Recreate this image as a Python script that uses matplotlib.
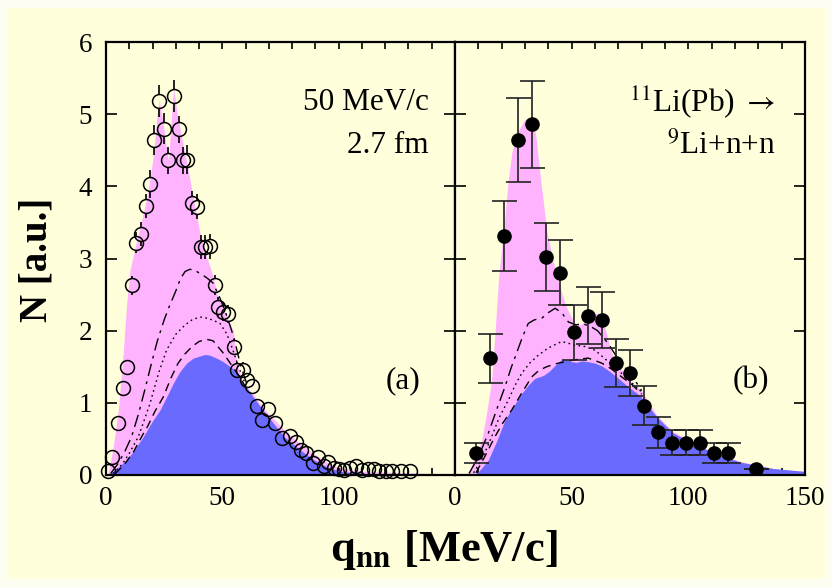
import matplotlib
matplotlib.use("Agg")
import matplotlib.pyplot as plt
from matplotlib.patches import Rectangle
import numpy as np

plt.rcParams['font.family'] = ['Liberation Serif', 'DejaVu Serif']
plt.rcParams['mathtext.fontset'] = 'stix'

# ---------------- panel (a): 50 MeV/c, 2.7 fm ----------------
qa = [1.0, 2.4, 5.3, 7.2, 9.2, 11.0, 12.9, 14.9, 17.2, 18.9, 20.6, 22.9, 24.9, 26.8,
      29.2, 31.2, 33.0, 34.9, 36.8, 39.0, 40.7, 42.5, 44.7, 46.8, 48.3, 50.4, 52.6,
      55.0, 56.2, 58.7, 60.5, 62.8, 64.7, 66.9, 69.5, 72.8, 75.8, 79.1, 81.7, 83.8,
      86.0, 89.1, 91.3, 93.5, 95.6, 98.0, 100.0, 102.5, 105.0, 107.5, 110.0, 112.5,
      115.0, 117.5, 120.5, 123.0, 127.0, 130.5]
Na = [0.05, 0.25, 0.72, 1.20, 1.50, 2.63, 3.22, 3.34, 3.73, 4.03, 4.64, 5.18, 4.80, 4.36,
      5.25, 4.79, 4.36, 4.37, 3.77, 3.72, 3.16, 3.16, 3.17, 2.63, 2.33, 2.26, 2.23,
      1.78, 1.46, 1.46, 1.31, 1.23, 0.95, 0.76, 0.91, 0.72, 0.51, 0.54, 0.46, 0.35,
      0.30, 0.16, 0.25, 0.12, 0.18, 0.10, 0.08, 0.07, 0.10, 0.13, 0.07, 0.08,
      0.08, 0.05, 0.06, 0.05, 0.05, 0.06]
Ea = [0.02, 0.04, 0.07, 0.09, 0.10, 0.13, 0.15, 0.16, 0.17, 0.19, 0.21, 0.22, 0.21, 0.19,
      0.22, 0.19, 0.19, 0.20, 0.17, 0.17, 0.17, 0.17, 0.17, 0.14, 0.13, 0.13, 0.13,
      0.11, 0.10, 0.10, 0.09, 0.09, 0.08, 0.07, 0.08, 0.07, 0.06, 0.06, 0.05, 0.05,
      0.05, 0.04, 0.04, 0.03, 0.04, 0.03, 0.03, 0.03, 0.03, 0.03, 0.03, 0.03,
      0.03, 0.02, 0.02, 0.02, 0.02, 0.02]

# total (pink) and core (blue) distributions
qa_tot = [0, 1.0, 3.1, 5.3, 7.4, 8.9, 10.3, 13.2, 16.0, 18.2, 20.3, 22.0, 22.9, 24.6,
          26.1, 26.8, 27.8, 28.6, 29.2, 30.6, 31.8, 33.9, 36.1, 38.2, 40.4, 43.3, 46.1,
          47.6, 51.9, 54.7, 56.2, 59.0, 63.3, 67.0, 72.0, 78.0, 83.4, 88.0, 91.3, 96.0,
          100.0, 106.0, 112.0, 120.0, 130.0, 140.0, 150.0]
Na_tot = [0, 0.03, 0.39, 0.90, 1.69, 2.38, 2.84, 3.25, 3.62, 3.95, 4.41, 5.00, 5.19, 4.87,
          4.50, 4.36, 4.78, 5.19, 5.34, 5.00, 4.80, 4.46, 4.09, 3.72, 3.35, 3.02, 2.75,
          2.52, 2.19, 2.00, 1.55, 1.27, 1.12, 0.95, 0.78, 0.58, 0.44, 0.32, 0.25, 0.15,
          0.10, 0.07, 0.05, 0.04, 0.03, 0.02, 0.01]
qa_core = [0, 1.7, 5.0, 8.9, 12.0, 16.0, 20.0, 23.2, 26.0, 28.9, 31.5, 34.6, 37.5, 40.4,
           42.5, 44.7, 47.5, 50.4, 54.7, 58.0, 63.3, 67.0, 71.9, 77.0, 83.4, 88.0, 92.0,
           96.0, 100.6, 108.0, 115.0, 130.0, 150.0]
Na_core = [0, 0.02, 0.10, 0.21, 0.34, 0.53, 0.75, 0.90, 1.08, 1.27, 1.42, 1.55, 1.62, 1.65,
           1.67, 1.66, 1.62, 1.57, 1.47, 1.33, 1.08, 0.92, 0.72, 0.52, 0.35, 0.24, 0.16,
           0.10, 0.05, 0.03, 0.02, 0.01, 0.0]

# model curves
qa_c1 = [2, 5, 8, 11, 14, 17, 19, 22, 25, 27, 30, 32, 34, 36, 38, 40, 43, 46, 49, 52, 55, 58, 61]
Na_c1 = [0.02, 0.15, 0.32, 0.53, 0.85, 1.22, 1.48, 1.85, 2.15, 2.32, 2.55, 2.72, 2.82, 2.85,
         2.84, 2.80, 2.74, 2.66, 2.45, 2.20, 1.90, 1.50, 1.22]
qa_c2 = [3, 7, 10, 13.9, 16, 18.9, 22.5, 26, 30, 34, 37, 40.4, 44, 47, 49, 52, 54, 57, 60]
Na_c2 = [0.02, 0.15, 0.30, 0.53, 0.72, 0.99, 1.40, 1.73, 1.95, 2.08, 2.15, 2.19, 2.17, 2.13,
         2.10, 1.95, 1.78, 1.50, 1.25]
qa_c3 = [4, 8, 12, 15.3, 18, 21, 24.6, 28, 31, 34, 37, 40, 43.3, 46, 50.4, 54, 57, 60]
Na_c3 = [0.02, 0.15, 0.33, 0.53, 0.68, 0.88, 1.08, 1.35, 1.55, 1.68, 1.78, 1.85, 1.88, 1.86,
         1.69, 1.52, 1.38, 1.22]

# ---------------- panel (b): 11Li(Pb) -> 9Li+n+n ----------------
qb = [9, 15, 21, 27, 33, 39, 45, 51, 57, 63, 69, 75, 81, 87, 93, 99, 105, 111, 117, 129]
Nb = [0.30, 1.62, 3.31, 4.64, 4.86, 3.02, 2.80, 1.98, 2.21, 2.15, 1.55, 1.41, 0.96, 0.59,
      0.45, 0.45, 0.45, 0.30, 0.30, 0.09]
Eb = [0.14, 0.34, 0.49, 0.58, 0.60, 0.47, 0.45, 0.38, 0.40, 0.39, 0.33, 0.32, 0.27, 0.21,
      0.17, 0.17, 0.17, 0.14, 0.14, 0.0]

qb_tot = [0, 4, 5.7, 8, 11.4, 13.5, 15.7, 17.2, 18.6, 19.3, 21.4, 22.7, 24.3, 26.4, 28.0,
          30.0, 31.4, 33.6, 35.0, 36.4, 37.8, 39.3, 41.5, 43.6, 45.5, 47.1, 49.3, 51.4, 54.0,
          56.0, 58.5, 60.7, 62.9, 65.0, 67.1, 70.5, 74.3, 77.0, 80.0, 86.4, 93.6, 107.9,
          122.1, 136.4, 150.0]
Nb_tot = [0, 0, 0.02, 0.20, 0.48, 0.85, 1.32, 2.00, 2.70, 2.93, 3.58, 4.05, 4.46, 4.73, 4.82,
          4.93, 4.95, 4.93, 4.60, 4.18, 3.80, 3.39, 3.05, 2.75, 2.55, 2.38, 2.22, 2.10, 2.08,
          2.15, 2.22, 2.24, 2.20, 1.95, 1.69, 1.50, 1.32, 1.25, 1.17, 0.83, 0.60, 0.36,
          0.19, 0.09, 0.05]
qb_core = [0, 6, 8.6, 11, 14.3, 18, 21.4, 25, 28.6, 31.5, 34.3, 37.9, 40.5, 42.9, 45.7,
           48, 50, 52, 54.3, 57, 60, 63, 65.7, 70, 74.3, 79.3, 82.9, 86.4, 90, 93.6, 100,
           107.9, 115, 122.1, 130, 136.4, 143, 150]
Nb_core = [0, 0, 0.0, 0.08, 0.21, 0.48, 0.76, 0.95, 1.13, 1.25, 1.34, 1.38, 1.44, 1.52, 1.60,
           1.59, 1.57, 1.56, 1.58, 1.57, 1.55, 1.51, 1.45, 1.34, 1.22, 1.10, 0.95, 0.81, 0.69,
           0.58, 0.47, 0.35, 0.26, 0.18, 0.13, 0.09, 0.07, 0.05]

qb_c1 = [6, 10, 14.3, 18, 21.4, 24, 26.4, 29, 31.4, 34, 37.1, 40, 42.9, 45.7, 48.6, 52,
         54.3, 58, 61.1, 65.7, 70, 75.7, 80]
Nb_c1 = [0.02, 0.25, 0.58, 0.92, 1.22, 1.48, 1.69, 1.92, 2.10, 2.15, 2.17, 2.25, 2.31, 2.25,
         2.12, 2.08, 2.10, 2.06, 2.00, 1.82, 1.60, 1.38, 1.17]
qb_c2 = [8, 12, 15.7, 19, 22.9, 25.7, 28.6, 32, 35.7, 40, 45.7, 51.4, 55.7, 60, 65.7, 70, 75, 80]
Nb_c2 = [0.03, 0.25, 0.53, 0.80, 1.04, 1.24, 1.41, 1.55, 1.66, 1.76, 1.85, 1.80, 1.78, 1.73,
         1.57, 1.45, 1.30, 1.15]
qb_c3 = [9, 13, 17.1, 20.5, 24.3, 28.5, 32.9, 36, 39.3, 43, 47.1, 52, 57.1, 62.9, 67, 71.4, 76, 80]
Nb_c3 = [0.03, 0.27, 0.53, 0.72, 0.90, 1.13, 1.36, 1.45, 1.50, 1.54, 1.57, 1.60, 1.62, 1.55,
         1.47, 1.36, 1.25, 1.12]

x_ticks_a = [0, 50, 100]
x_ticks_b = [0, 50, 100, 150]
y_ticks = [0, 1, 2, 3, 4, 5, 6]

BG = '#ffffdc'
PINK = '#ffb3ff'
BLUE = '#6a6aff'

fig = plt.figure(figsize=(8.32, 5.87), dpi=100)
fig.patch.set_facecolor('#fdfdf2')
fig.patches.append(Rectangle((7 / 832, 8 / 587), 1 - 14 / 832, 1 - 16 / 587,
                             transform=fig.transFigure, facecolor=BG,
                             edgecolor='none', zorder=-10))

axA = fig.add_axes([106 / 832, 1 - 475 / 587, 349 / 832, 433 / 587])
axB = fig.add_axes([455 / 832, 1 - 475 / 587, 350 / 832, 433 / 587])

curve_styles = [(0, (9, 4, 2, 4)), (0, (1.2, 2.5)), (0, (6, 4))]


def style_axes(ax, xticks, show_y):
    ax.set_facecolor(BG)
    ax.set_xlim(0, 150)
    ax.set_ylim(0, 6)
    ax.set_xticks(xticks)
    ax.set_xticks(np.arange(0, 151, 10), minor=True)
    ax.set_yticks(y_ticks)
    ax.tick_params(axis='both', which='both', direction='in', top=True, right=True,
                   width=1.2, labelsize=19.5)
    ax.tick_params(axis='x', which='both', length=5, pad=8)
    ax.tick_params(axis='y', which='major', length=8, pad=10)
    if not show_y:
        ax.tick_params(axis='y', labelleft=False)
    for s in ax.spines.values():
        s.set_linewidth(1.6)


def draw_panel(ax, qt, nt, qc, nc, curves):
    ax.fill_between(qt, 0, nt, color=PINK, lw=0, zorder=1)
    ax.fill_between(qc, 0, nc, color=BLUE, lw=0, zorder=2)
    for (q, n), ls in zip(curves, curve_styles):
        ax.plot(q, n, color='black', lw=1.0, ls=ls, zorder=3)


draw_panel(axA, qa_tot, Na_tot, qa_core, Na_core,
           [(qa_c1, Na_c1), (qa_c2, Na_c2), (qa_c3, Na_c3)])
draw_panel(axB, qb_tot, Nb_tot, qb_core, Nb_core,
           [(qb_c1, Nb_c1), (qb_c2, Nb_c2), (qb_c3, Nb_c3)])

# panel (a): open circles, error bars drawn outside the ring only
ring = 0.097
qa_arr, Na_arr, Ea_arr = np.array(qa), np.array(Na), np.array(Ea)
vis = Ea_arr > ring
axA.vlines(qa_arr[vis], Na_arr[vis] + ring, Na_arr[vis] + Ea_arr[vis], color='black', lw=1.2, zorder=4)
axA.vlines(qa_arr[vis], Na_arr[vis] - Ea_arr[vis], Na_arr[vis] - ring, color='black', lw=1.2, zorder=4)
axA.plot(qa, Na, 'o', ms=10, mfc='none', mec='black', mew=1.1, zorder=5, clip_on=False)

# panel (b): filled circles with capped error bars
axB.errorbar(qb, Nb, yerr=Eb, fmt='o', ms=9.5, color='black', ecolor='#222222',
             elinewidth=1.2, capsize=9, capthick=1.2, zorder=5)

style_axes(axA, x_ticks_a, True)
style_axes(axB, x_ticks_b, False)

axA.text(0.925, 0.86, '50 MeV/c', transform=axA.transAxes, ha='right', va='center', fontsize=22.5)
axA.text(0.925, 0.76, '2.7 fm', transform=axA.transAxes, ha='right', va='center', fontsize=22.5)
axA.text(0.85, 0.218, '(a)', transform=axA.transAxes, ha='center', va='center', fontsize=22.5)

axB.text(0.915, 0.86, r'$^{11}$Li(Pb) $\rightarrow$', transform=axB.transAxes, ha='right',
         va='center', fontsize=22.5)
axB.text(0.915, 0.76, r'$^{9}$Li+n+n', transform=axB.transAxes, ha='right', va='center',
         fontsize=22.5)
axB.text(0.845, 0.218, '(b)', transform=axB.transAxes, ha='center', va='center', fontsize=22.5)

fig.text(444 / 832, 1 - 550 / 587, r'q$_{\mathbf{nn}}$ [MeV/c]', ha='center', va='center',
         fontsize=32, fontweight='bold')
fig.text(37 / 832, 1 - 260 / 587, 'N [a.u.]', ha='center', va='center', rotation=90,
         fontsize=28, fontweight='bold')

fig.savefig('out.png', dpi=100, facecolor=fig.get_facecolor())
